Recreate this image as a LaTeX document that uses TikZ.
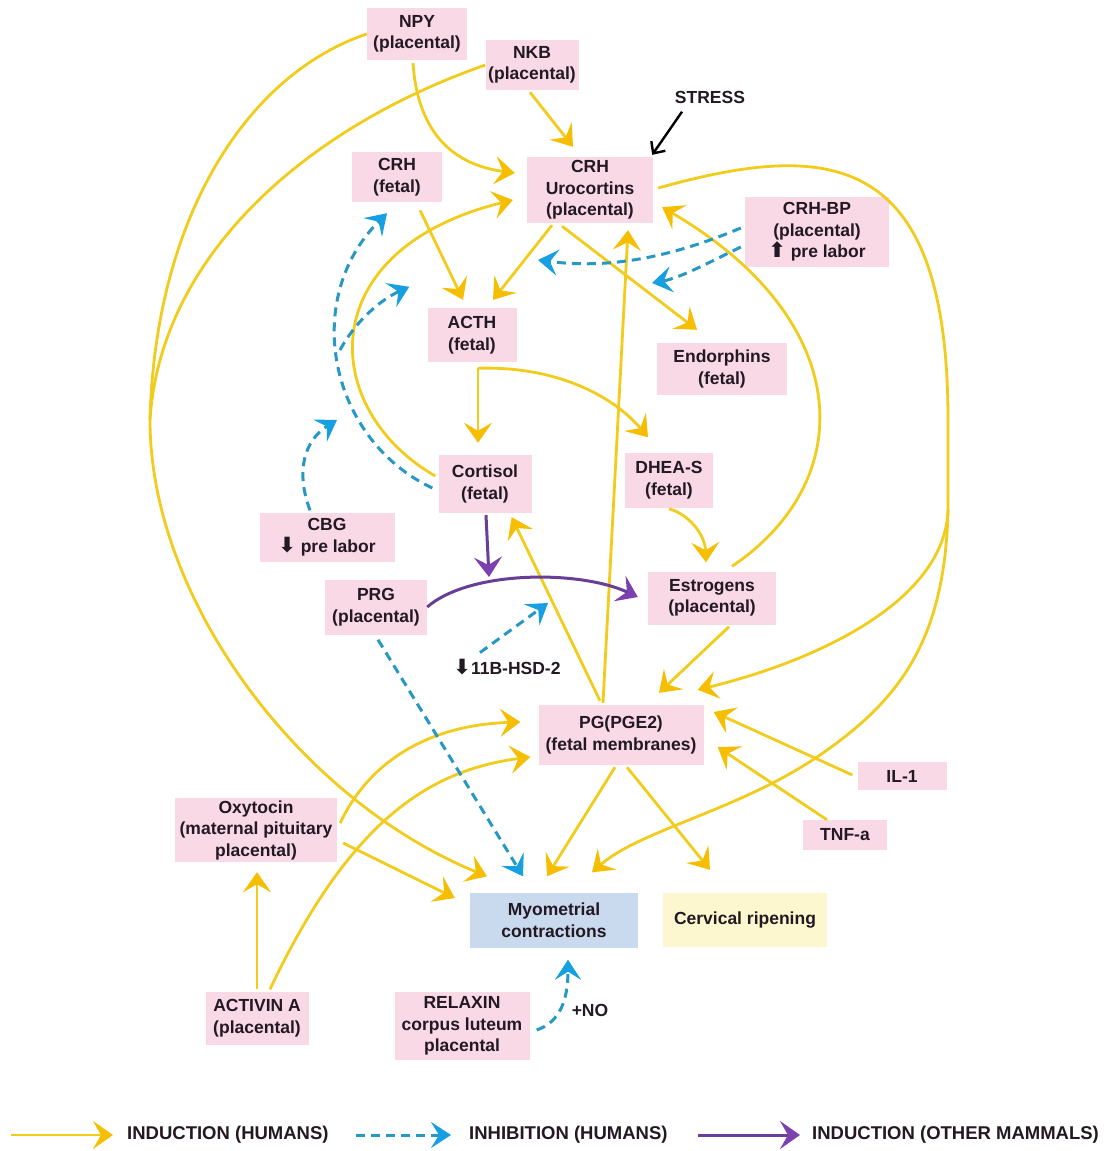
\documentclass[tikz,border=0pt]{standalone}
\usepackage{fontspec}
\setmainfont{Liberation Sans}
\newfontfamily\flechas{DejaVu Sans}
\usetikzlibrary{arrows.meta,calc}
\definecolor{rosa}{RGB}{248,217,229}
\definecolor{celeste}{RGB}{201,217,238}
\definecolor{crema}{RGB}{252,247,206}
\definecolor{amarillo}{RGB}{242,204,28}
\definecolor{oro}{RGB}{246,190,0}
\definecolor{turquesa}{RGB}{38,152,195}
\definecolor{azul}{RGB}{22,160,226}
\definecolor{morado}{RGB}{104,62,150}
\definecolor{violeta}{RGB}{124,64,176}
\definecolor{tinta}{RGB}{35,25,35}
\newcommand{\arriba}{{\flechas\fontsize{21}{21}\selectfont ⬆}}
\newcommand{\abajo}{{\flechas\fontsize{21}{21}\selectfont ⬇}}
\begin{document}
\begin{tikzpicture}[
    x=1pt,
    y=-1pt,
    font=\fontsize{17.5}{21.5}\selectfont\bfseries,
    text=tinta,
    caja/.style={fill=rosa,align=center,inner sep=2pt},
    leyenda/.style={anchor=west,inner sep=0pt,font=\fontsize{18.5}{21.5}\selectfont\bfseries},
    induccion/.style={draw=amarillo,line width=2.8pt,
        -{Stealth[length=20pt,width=28pt,inset=8pt,color=oro]}},
    inhibicion/.style={draw=turquesa,line width=3pt,dash pattern=on 9pt off 6pt,
        -{Stealth[length=20pt,width=26pt,inset=8pt,color=azul]}},
    otros/.style={draw=morado,line width=3pt,
        -{Stealth[length=20pt,width=28pt,inset=8pt,color=violeta]}},
    tronco/.style={draw=amarillo,line width=2.8pt}
]
    \fill[white] (0,0) rectangle (1105,1151);
    \useasboundingbox (0,0) rectangle (1105,1151);

    % Cajas
    \node[caja,minimum width=100pt,minimum height=52pt] (npy) at (417,34) {NPY\\(placental)};
    \node[caja,minimum width=93pt,minimum height=50pt] (nkb) at (532,65) {NKB\\(placental)};
    \node (stress) at (710,97) {STRESS};
    \node[caja,minimum width=126pt,minimum height=66pt] (crhu) at (590,190) {CRH\\Urocortins\\(placental)};
    \node[caja,minimum width=90pt,minimum height=50pt] (crhf) at (397,177) {CRH\\(fetal)};
    \node[caja,minimum width=144pt,minimum height=70pt] (crhbp) at (817,232) {CRH-BP\\(placental)\\\arriba{} pre labor};
    \node[caja,minimum width=89pt,minimum height=54pt] (acth) at (472,335) {ACTH\\(fetal)};
    \node[caja,minimum width=130pt,minimum height=52pt] (endo) at (722,369) {Endorphins\\(fetal)};
    \node[caja,minimum width=93pt,minimum height=58pt] (cort) at (485,484) {Cortisol\\(fetal)};
    \node[caja,minimum width=88pt,minimum height=55pt] (dhea) at (669,480) {DHEA-S\\(fetal)};
    \node[caja,minimum width=135pt,minimum height=49pt] (cbg) at (327,537) {CBG\\\abajo{} pre labor};
    \node[caja,minimum width=102pt,minimum height=55pt] (prg) at (376,607) {PRG\\(placental)};
    \node (hsd) at (507,667) {\abajo11B-HSD-2};
    \node[caja,minimum width=128pt,minimum height=53pt] (estr) at (712,598) {Estrogens\\(placental)};
    \node[caja,minimum width=165pt,minimum height=60pt] (pg) at (621,735) {PG(PGE2)\\(fetal membranes)};
    \node[caja,minimum width=89pt,minimum height=28pt] (il1) at (902,776) {IL-1};
    \node[caja,minimum width=84pt,minimum height=30pt] (tnf) at (845,835) {TNF-a};
    \node[caja,minimum width=162pt,minimum height=64pt] (oxy) at (256,830) {Oxytocin\\(maternal pituitary\\placental)};
    \node[caja,fill=celeste,minimum width=168pt,minimum height=55pt] (myo) at (554,920) {Myometrial\\contractions};
    \node[caja,fill=crema,minimum width=164pt,minimum height=54pt] (cerv) at (745,920) {Cervical ripening};
    \node[caja,minimum width=103pt,minimum height=53pt] (act) at (257,1018) {ACTIVIN A\\(placental)};
    \node[caja,minimum width=135pt,minimum height=68pt] (relax) at (462,1026) {RELAXIN\\corpus luteum\\placental};
    \node (no) at (590,1010) {+NO};

    % Puntos sobre otras flechas
    \coordinate (union) at (150,420);
    \coordinate (rama) at (948,510);
    \coordinate (ramal) at (340,350);
    \coordinate (cbgpunta) at (337,420);
    \coordinate (sobreacth) at (538,260);
    \coordinate (sobreendo) at (652,283);
    \coordinate (sobreotro) at (548,603);
    \coordinate (sobremorado) at (489,577);

    % Induccion (humanos)
    \draw[tronco] (nkb.west) .. controls (300,130) and (160,260) .. (union);
    \draw[induccion] (npy.west) .. controls (245,75) and (155,220) .. (union)
        .. controls (150,600) and (300,800) .. ($(myo.north)+(-67,-16)$);
    \draw[induccion] ($(npy.south)+(-4,3)$) .. controls (418,135) and (455,165) .. ($(crhu.west)+(-12,-17)$);
    \draw[induccion] ($(nkb.south)+(-2,2)$) -- ($(crhu.north)+(-17,-10)$);
    \draw[induccion] ($(crhf.south)+(23,8)$) -- ($(acth.north)+(-9,-8)$);
    \draw[induccion] ($(crhu.south)+(-38,2)$) -- ($(acth.north)+(21,-8)$);
    \draw[induccion] ($(crhu.south)+(-28,3)$) -- ($(endo.north)+(-25,-13)$);
    \draw[induccion] ($(cort.west)+(-3,-8)$) .. controls (320,410) and (310,250) .. ($(crhu.west)+(-14,10)$);
    \draw[induccion] ($(acth.south)+(6,6)$) -- ($(cort.north)+(-7,-12)$);
    \draw[induccion] ($(acth.south)+(6,6)$) .. controls (560,366) and (615,398) .. ($(dhea.north)+(-21,-15)$);
    \draw[induccion] ($(dhea.south)+(0,1)$) .. controls (690,515) and (705,535) .. ($(estr.north)+(-6,-9)$);
    \draw[induccion] ($(estr.north)+(20,-5)$) .. controls (860,480) and (855,320) .. ($(crhu.south east)+(9,-16)$);
    \draw[tronco] ($(crhu.east)+(5,-2)$) .. controls (830,140) and (948,150) .. (948,420) -- (rama);
    \draw[induccion] (rama) .. controls (945,600) and (820,660) .. ($(pg.north east)+(-6,-15)$);
    \draw[induccion] (rama) .. controls (945,640) and (900,700) .. (820,755)
        .. controls (740,810) and (640,830) .. ($(myo.north)+(38,-20)$);
    \draw[induccion] ($(pg.north)+(-18,-2)$) -- ($(crhu.south)+(38,7)$);
    \draw[induccion] ($(pg.north)+(-21,-4)$) -- ($(cort.south east)+(-20,4)$);
    \draw[induccion] ($(estr.south)+(17,2)$) -- ($(pg.north)+(38,-12)$);
    \draw[induccion] ($(il1.west)+(-5,-1)$) -- ($(pg.east)+(10,-23)$);
    \draw[induccion] ($(tnf.north)+(-18,0)$) -- ($(pg.east)+(14,12)$);
    \draw[induccion] ($(pg.south)+(-6,2)$) -- ($(myo.north)+(-7,-16)$);
    \draw[induccion] ($(pg.south)+(6,2)$) -- ($(cerv.north)+(-35,-23)$);
    \draw[induccion] ($(oxy.east)+(6,13)$) -- ($(myo.west)+(-15,-22)$);
    \draw[induccion] ($(oxy.east)+(3,-7)$) .. controls (370,760) and (430,725) .. ($(pg.west)+(-18,-13)$);
    \draw[induccion] ($(act.north)+(13,-2)$) .. controls (350,820) and (430,770) .. ($(pg.west)+(-8,22)$);
    \draw[induccion] ($(act.north)+(0,-2)$) -- ($(oxy.south)+(1,10)$);
    \draw[line width=2.4pt,-{Straight Barb[length=9pt,width=17pt]}]
        ($(stress.south)+(-28,5)$) -- ($(crhu.north east)+(-1,-2)$);

    % Inhibicion (humanos)
    \draw[inhibicion] ($(cort.west)+(-6,4)$) .. controls (330,440) and (300,300) .. ($(crhf.south)+(-10,11)$);
    \draw[inhibicion] ($(cbg.north)+(-17,-2)$) .. controls (295,470) and (305,440) .. (cbgpunta);
    \draw[inhibicion] (ramal) .. controls (355,322) and (380,300) .. ($(acth.north west)+(-18,-21)$);
    \draw[inhibicion] ($(crhbp.west)+(-4,-4)$) .. controls (660,262) and (600,268) .. (sobreacth);
    \draw[inhibicion] ($(crhbp.west)+(-4,15)$) .. controls (710,262) and (680,278) .. (sobreendo);
    \draw[inhibicion] ($(prg.south)+(2,5)$) -- ($(myo.north)+(-31,-16)$);
    \draw[inhibicion] ($(hsd.north)+(-27,-3)$) -- (sobreotro);
    \draw[inhibicion] ($(relax.east)+(7,4)$) .. controls (560,1022) and (568,1000) .. ($(myo.south)+(14,12)$);

    % Induccion (otros mamiferos)
    \draw[otros] ($(cort.south)+(1,2)$) -- (sobremorado);
    \draw[otros] (prg.east) .. controls (470,570) and (580,570) .. ($(estr.west)+(-10,-1)$);

    % Leyenda
    \coordinate (l1a) at (11,1135);
    \coordinate (l1b) at (113,1135);
    \coordinate (l2a) at (356,1135);
    \coordinate (l2b) at (451,1135);
    \coordinate (l3a) at (698,1135);
    \coordinate (l3b) at (800,1135);
    \draw[induccion] (l1a) -- (l1b);
    \draw[inhibicion] (l2a) -- (l2b);
    \draw[otros] (l3a) -- (l3b);
    \node[leyenda] (t1) at (127,1135) {INDUCTION (HUMANS)};
    \node[leyenda] (t2) at (469,1135) {INHIBITION (HUMANS)};
    \node[leyenda] (t3) at (812,1135) {INDUCTION (OTHER MAMMALS)};
\end{tikzpicture}
\end{document}
